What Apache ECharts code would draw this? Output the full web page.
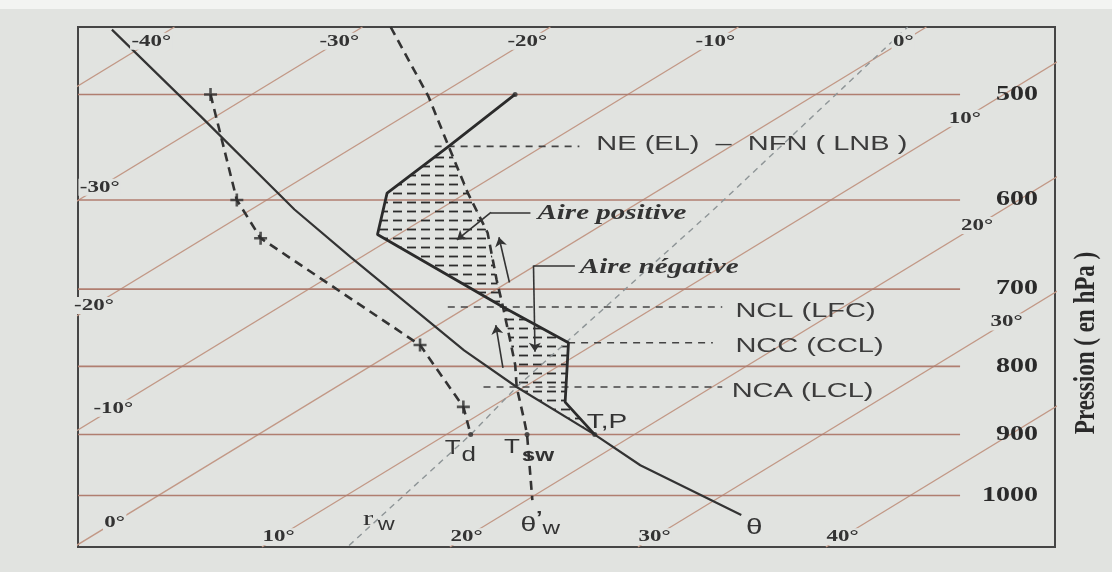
<!DOCTYPE html>
<html>
<head>
<meta charset="utf-8">
<script src="https://cdn.jsdelivr.net/npm/echarts@6/dist/echarts.min.js"></script>
<style>
  html, body { margin: 0; padding: 0; background: #e1e3e0; }
  #chart { width: 1112px; height: 572px; }
</style>
</head>
<body>
<div id="chart"></div>
<script>
// values: temperature in °C, pressure in hPa
var isotherms = [-40, -30, -20, -10, 0, 10, 20, 30, 40];
var isobars = [500, 600, 700, 800, 900, 1000];

// état de l'atmosphère (thick solid)
var envP = [500, 547, 593, 637, 722, 768, 851, 900];
var envT = [-16.0, -15.0, -14.2, -11.1, 1.9, 8.5, 13.5, 17.9];
// point de rosée (dashed, crosses)
var dewP = [500, 600, 641, 771, 858, 900];
var dewT = [-32.2, -21.6, -17.0, 0.8, 8.5, 11.3];
// adiabatique sèche θ through T,P
var dryP = [447, 520, 610, 662, 778, 829, 900, 949, 1034];
var dryT = [-43.1, -30.7, -17.7, -10.6, 3.6, 9.6, 17.9, 23.0, 32.7];
// pseudo-adiabatique θ'w
var moistP = [445, 502, 547, 593, 635, 689, 722, 765, 798, 829, 878, 900, 1008];
var moistT = [-28.5, -20.4, -15.0, -9.9, -5.4, -0.8, 1.9, 5.2, 7.6, 9.6, 12.9, 14.3, 20.3];
// rapport de mélange r_w
var rwP = [1090, 900, 829, 610, 445];
var rwT = [14.5, 11.3, 9.6, 4.6, -1.0];

// niveaux
var levelNames = ['NE (EL)  \u2013  NFN ( LNB )', 'NCL (LFC)', 'NCC (CCL)', 'NCA (LCL)'];
var levelP = [547, 722, 768, 829];
var levelX0 = [14.7, 15.4, 21.8, 17.3];
var levelX1 = [22.4, 30.0, 29.5, 30.0];

// arrows and pointers (T, p)
var riseArrows = [[[0.1, 692], [-4.4, 640]], [[7.2, 802], [3.1, 745]]];
var pointerPos = [[-4.9, 613], [-7.0, 613], [-6.4, 643]];
var pointerNeg = [[2.1, 672], [-0.1, 672], [7.5, 780]];

// skew of the diagram: isotherms lean right by SKEW °C per decade of pressure
var SKEW = 116.2;
function sk(t, p) { return [t + SKEW * Math.log10(1000 / p), p]; }
function curve(ts, ps) { return ts.map(function (t, i) { return sk(t, ps[i]); }); }

var X_MIN = -4.27, X_MAX = 47.7, P_TOP = 445, P_BOT = 1093;
var ISOBAR_END = 42.65;

var env = curve(envT, envP);
var dew = curve(dewT, dewP);
var dry = curve(dryT, dryP);
var moist = curve(moistT, moistP);
var rw = curve(rwT, rwP);

// hatch pattern for the areas
var hatch = document.createElement('canvas');
hatch.width = 14; hatch.height = 9;
var hc = hatch.getContext('2d');
hc.strokeStyle = '#2c2c2c'; hc.lineWidth = 1.8;
hc.beginPath(); hc.moveTo(1, 4.5); hc.lineTo(10, 4.5); hc.stroke();

// aire positive: θ'w from NE to NCL, back along the sounding
var posArea = moist.slice(2, 7).concat(env.slice(1, 5).reverse());
// aire négative: θ'w from NCL to NCA, θ to T,P, back along the sounding
var negArea = moist.slice(6, 10).concat(dry.slice(6, 7), env.slice(4, 7).reverse());

function areaSeries(pts) {
  return {
    type: 'custom', silent: true, z: 2, data: [[10, 700]],
    renderItem: function (params, api) {
      return {
        type: 'polygon',
        shape: { points: pts.map(function (d) { return api.coord(d); }) },
        style: { fill: { image: hatch, repeat: 'repeat' }, stroke: null }
      };
    }
  };
}

var series = [];
isotherms.forEach(function (t) {
  series.push({ type: 'line', data: [sk(t, P_BOT), sk(t, P_TOP)], symbol: 'none', silent: true, z: 1,
    lineStyle: { color: '#c29886', width: 1.3 } });
});
isobars.forEach(function (p) {
  series.push({ type: 'line', data: [[X_MIN, p], [ISOBAR_END, p]], symbol: 'none', silent: true, z: 1,
    lineStyle: { color: '#b07e70', width: 1.6 } });
});
series.push(areaSeries(posArea));
series.push(areaSeries(negArea));

series.push({ type: 'line', data: rw, symbol: 'none', silent: true, z: 3,
  lineStyle: { color: '#8e9597', width: 1.4, type: [6, 5] } });
series.push({ type: 'line', data: dry, symbol: 'none', silent: true, z: 5,
  lineStyle: { color: '#333', width: 2.2 } });
series.push({ type: 'line', data: moist, symbol: 'none', silent: true, z: 5,
  lineStyle: { color: '#333', width: 2.6, type: [9, 6] } });
series.push({ type: 'line', data: dew, symbol: 'none', silent: true, z: 5,
  lineStyle: { color: '#333', width: 2.6, type: [9, 6] } });
series.push({ type: 'line', data: env, symbol: 'none', silent: true, z: 6,
  lineStyle: { color: '#2b2b2b', width: 2.8 } });

levelP.forEach(function (p, i) {
  series.push({ type: 'line', data: [[levelX0[i], p], [levelX1[i], p]], symbol: 'none', silent: true, z: 4,
    lineStyle: { color: '#444', width: 1.6, type: [7, 6] } });
});

series.push({ type: 'scatter', data: dew.slice(0, 5), silent: true, z: 7,
  symbol: 'path://M4,0H6V4H10V6H6V10H4V6H0V4H4Z', symbolSize: 13, itemStyle: { color: '#2e2e2e' } });
series.push({ type: 'scatter', data: [dew[5], moist[11], env[7], env[0]], silent: true, z: 7,
  symbolSize: 5, itemStyle: { color: '#2e2e2e' } });

function segs(list) {
  return list.map(function (seg) { return { coords: seg.map(function (d) { return sk(d[0], d[1]); }) }; });
}
series.push({ type: 'lines', coordinateSystem: 'cartesian2d', silent: true, z: 8,
  symbol: ['none', 'arrow'], symbolSize: 9,
  lineStyle: { color: '#333', width: 1.6, opacity: 1, curveness: 0 },
  data: segs(riseArrows.concat([pointerPos.slice(1, 3), pointerNeg.slice(1, 3)])) });
series.push({ type: 'lines', coordinateSystem: 'cartesian2d', silent: true, z: 8,
  symbol: 'none',
  lineStyle: { color: '#333', width: 1.6, opacity: 1, curveness: 0 },
  data: segs([pointerPos.slice(0, 2), pointerNeg.slice(0, 2)]) });

var chart = echarts.init(document.getElementById('chart'));
chart.setOption({
  animation: false,
  backgroundColor: '#e1e3e0',
  grid: { left: 78, right: 57, top: 27, bottom: 25, show: true, borderColor: '#454545', borderWidth: 2,
    backgroundColor: 'transparent' },
  xAxis: { type: 'value', min: X_MIN, max: X_MAX, show: false },
  yAxis: { type: 'log', logBase: 10, min: P_TOP, max: P_BOT, inverse: true, show: false },
  series: series
});

// texts
function px(t, p) { return chart.convertToPixel({ gridIndex: 0 }, sk(t, p)); }
function pxX(x, p) { return chart.convertToPixel({ gridIndex: 0 }, [x, p]); }
function txt(pt, text, o) {
  return {
    type: 'text', x: pt[0] + (o.dx || 0), y: pt[1] + (o.dy || 0), z: 100,
    scaleX: o.sx || 1, scaleY: o.sy || 1, rotation: o.rot || 0,
    style: {
      text: text, font: o.font, fill: o.color || '#333',
      align: o.align || 'center', verticalAlign: 'middle',
      textAlign: o.align || 'center', textVerticalAlign: 'middle',
      backgroundColor: o.bg, padding: o.pad
    }
  };
}

var isoLabels = [[-40, 456], [-30, 456], [-20, 456], [-10, 456], [0, 456],
  [-30, 587], [-20, 720], [-10, 860], [0, 1047],
  [10, 1074], [20, 1074], [30, 1074], [40, 1074],
  [10, 521], [20, 627], [30, 741]];

var SERIF = '"Liberation Serif", "DejaVu Serif", serif';
var SANS = '"Liberation Sans", Arial, sans-serif';
var g = [{ type: 'rect', shape: { x: 0, y: 0, width: 1112, height: 9 }, style: { fill: '#f3f4f2' }, z: 0 }];

isoLabels.forEach(function (l) {
  g.push(txt(px(l[0], l[1]), l[0] + '\u00b0', { font: 'bold 17px ' + SERIF, sx: 1.35, color: '#333',
    bg: '#e1e3e0', pad: [0, 1] }));
});
isobars.forEach(function (p) {
  g.push(txt(pxX(46.8, p), String(p), { font: 'bold 20px ' + SERIF, sx: 1.4, align: 'right', color: '#2a2a2a' }));
});
var levelLabelX = [23.3, 30.7, 30.7, 30.5];
levelNames.forEach(function (n, i) {
  g.push(txt(pxX(levelLabelX[i], levelP[i]), n, { font: '20px ' + SANS, sx: 1.45, align: 'left',
    color: '#3c3c3c', dy: i === 0 ? -2 : 4 }));
});

var tp = px(envT[7], envP[7]);
g.push(txt(tp, 'T,P', { font: '20px ' + SANS, sx: 1.4, align: 'left', dx: -8, dy: -12 }));
var td = px(dewT[5], dewP[5]);
g.push(txt(td, 'T', { font: '20px ' + SANS, sx: 1.3, dx: -18, dy: 14 }));
g.push(txt(td, 'd', { font: '20px ' + SANS, sx: 1.3, dx: -2, dy: 21 }));
var ts = px(moistT[11], moistP[11]);
g.push(txt(ts, 'T', { font: '20px ' + SANS, sx: 1.3, dx: -15, dy: 13 }));
g.push(txt(ts, 'sw', { font: 'bold 18px ' + SANS, sx: 1.35, dx: 11, dy: 21 }));
var tw = px(moistT[12], moistP[12]);
g.push(txt(tw, '\u03b8', { font: '21px ' + SANS, sx: 1.35, dx: -4, dy: 25 }));
g.push(txt(tw, '\u2019', { font: 'bold 18px ' + SANS, sx: 1.3, dx: 7, dy: 19 }));
g.push(txt(tw, 'w', { font: '18px ' + SANS, sx: 1.35, dx: 19, dy: 29 }));
var rb = px(rwT[0], rwP[0]);
g.push(txt(rb, 'r', { font: '22px ' + SERIF, sx: 1.4, dx: 19, dy: -26 }));
g.push(txt(rb, 'w', { font: '18px ' + SANS, sx: 1.3, dx: 37, dy: -20 }));
var th = px(dryT[8], dryP[8]);
g.push(txt(th, '\u03b8', { font: '22px ' + SANS, sx: 1.35, dx: 13, dy: 13 }));

var pp = px(pointerPos[0][0], pointerPos[0][1]);
g.push(txt(pp, 'Aire positive', { font: 'italic bold 20px ' + SERIF, sx: 1.45, align: 'left', dx: 7, dy: 1 }));
var pn = px(pointerNeg[0][0], pointerNeg[0][1]);
g.push(txt(pn, 'Aire n\u00e9gative', { font: 'italic bold 20px ' + SERIF, sx: 1.45, align: 'left', dx: 5, dy: 2 }));

g.push(txt([1086, 343], 'Pression ( en hPa )', { font: 'bold 23px ' + SERIF, sy: 1.3, rot: Math.PI / 2,
  color: '#2a2a2a' }));

chart.setOption({ graphic: g });
</script>
</body>
</html>
